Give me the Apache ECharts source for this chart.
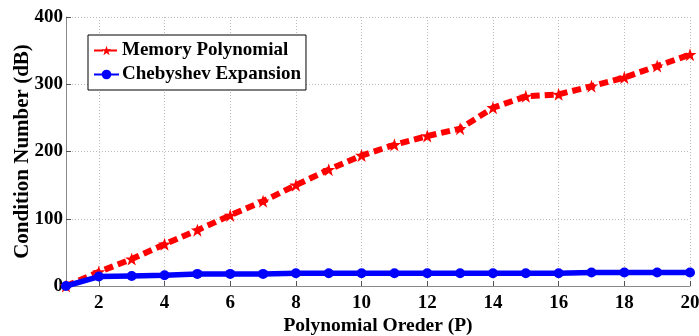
<!DOCTYPE html>
<html><head><meta charset="utf-8">
<script src="https://cdn.jsdelivr.net/npm/echarts@6/dist/echarts.min.js"></script>
<style>html,body{margin:0;padding:0;background:#fff}#c{width:699px;height:336px}</style>
</head><body><div id="c"></div>
<script>
var orders = [1,2,3,4,5,6,7,8,9,10,11,12,13,14,15,16,17,18,19,20];
var memoryPoly = [0,21,40,62,83,105,126,150,173,194,210,223,234,265,282,285,297,310,327,344];
var chebyshev = [0,14,15,16,18,18,18,19,19,19,19,19,19,19,19,19,20,20,20,20];
var yTicks = [0,100,200,300,400];

var serif = '"Liberation Serif","DejaVu Serif",serif';
var starPath = 'path://M50,0 L62,35 L100,35 L70,58 L82,95 L50,72 L18,95 L30,58 L0,35 L38,35 Z';
var chart = echarts.init(document.getElementById('c'));
chart.setOption({
  animation: false,
  grid: {left: 66, right: 9, top: 17, bottom: 50, containLabel: false, outerBoundsMode: 'none'},
  legend: {
    left: 88, top: 35, orient: 'vertical',
    borderColor: '#000', borderWidth: 1, backgroundColor: '#fff',
    padding: [6, 5, 6, 5], itemGap: 5, itemWidth: 25, itemHeight: 12,
    textStyle: {fontFamily: serif, fontWeight: 'bold', fontSize: 19, color: '#000', padding: [0, 0, 0, -2]},
    data: ['Memory Polynomial', 'Chebyshev Expansion']
  },
  xAxis: {
    type: 'category', data: orders, boundaryGap: false,
    name: 'Polynomial Oreder (P)', nameLocation: 'middle', nameGap: 30, nameMoveOverlap: false,
    nameTextStyle: {fontFamily: serif, fontWeight: 'bold', fontSize: 19.5, color: '#000'},
    axisLine: {lineStyle: {color: '#888', width: 1}},
    axisTick: {inside: true, length: 5, lineStyle: {color: '#555'}, interval: function(i, v){return (+v) % 2 === 0;}},
    axisLabel: {fontFamily: serif, fontWeight: 'bold', fontSize: 19, color: '#000', margin: 8,
      interval: function(i, v){return (+v) % 2 === 0;}},
    splitLine: {show: true, interval: function(i, v){return (+v) % 2 === 0;}, lineStyle: {color: '#bbb', type: [1, 2], width: 1}}
  },
  yAxis: {
    type: 'value', min: 0, max: 400, interval: 100,
    name: 'Condition Number (dB)', nameLocation: 'middle', nameGap: 33, nameMoveOverlap: false,
    nameTextStyle: {fontFamily: serif, fontWeight: 'bold', fontSize: 21, color: '#000'},
    axisLine: {show: true, lineStyle: {color: '#888', width: 1}},
    axisTick: {show: true, inside: true, length: 5, lineStyle: {color: '#555'}},
    axisLabel: {fontFamily: serif, fontWeight: 'bold', fontSize: 19, color: '#000', margin: 3,
      formatter: function(v){return yTicks.indexOf(v) >= 0 ? String(v) : '';}},
    splitLine: {show: true, lineStyle: {color: '#bbb', type: [1, 2], width: 1}}
  },
  series: [
    {
      name: 'Memory Polynomial', type: 'line', data: memoryPoly,
      symbol: starPath, symbolSize: 13, showAllSymbol: true,
      lineStyle: {color: '#ff0000', width: 6, type: [9, 5]},
      itemStyle: {color: '#ff0000'}, z: 3
    },
    {
      name: 'Chebyshev Expansion', type: 'line', data: chebyshev,
      symbol: 'circle', symbolSize: 10, showAllSymbol: true,
      lineStyle: {color: '#0000ff', width: 5.5},
      itemStyle: {color: '#0000ff'}, z: 4
    }
  ]
});
</script></body></html>
